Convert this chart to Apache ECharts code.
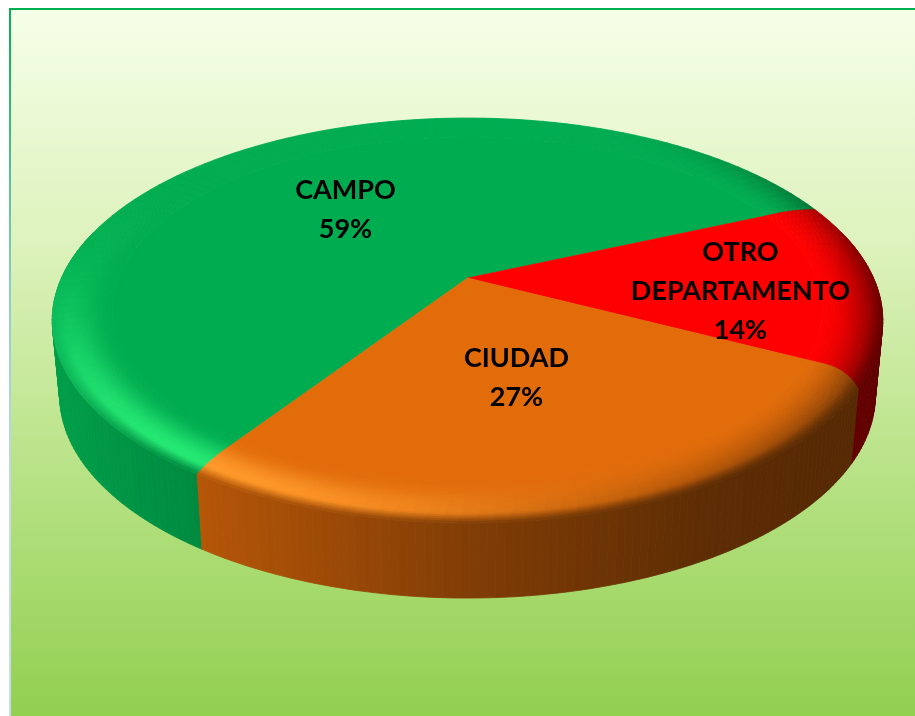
<!DOCTYPE html>
<html>
<head>
<meta charset="utf-8">
<style>html,body{margin:0;padding:0;background:#fff}#c{width:915px;height:716px}</style>
<script src="https://cdn.jsdelivr.net/npm/echarts@6/dist/echarts.min.js"></script>
</head>
<body>
<div id="c"></div>
<script>
// --- data ---
var categories = ['CAMPO', 'OTRO\nDEPARTAMENTO', 'CIUDAD'];
var values = [59, 14, 27];

// --- styles ---
var baseColors = [[0, 172, 80], [255, 0, 0], [226, 107, 10]];
var highlightColors = [[36, 232, 116], [255, 70, 50], [255, 152, 42]];
var labelOffsets = [[-122, -68], [273, 13], [49, 100]];
var view = {cx: 467.5, cy: 278, R: 406, S: 193.6, k: 0.21, depth: 75, bottomScale: 0.982, startDeg: 124};
var bevelStart = 0.86, rings = 22;
// how far, in degrees, each boundary bends along the rounded rim of the pie
var boundaryBend = [-0.7, 1.2, 4];

var total = values.reduce(function (a, b) { return a + b; }, 0);
var rad = Math.PI / 180;

function boundaryAngle(i, r) {
  var before = 0;
  for (var j = 0; j < i; j++) before += values[j];
  var deg = view.startDeg + before / total * 360;
  var t = Math.max(0, (r - 0.9) / 0.1);
  return deg + boundaryBend[i % values.length] * t * t;
}
function sliceEdges(i, r) {
  var end = boundaryAngle(i + 1, r);
  if (i === values.length - 1) end = boundaryAngle(0, r) + 360;
  return [boundaryAngle(i, r), end];
}
function project(r, deg, bottom) {
  var u = r * Math.cos(deg * rad), v = r * Math.sin(deg * rad);
  var w = 1 / (1 - view.k * v);
  var s = bottom ? view.bottomScale : 1;
  return [view.cx + view.R * s * u * w, view.cy + view.S * v * w + (bottom ? view.depth : 0)];
}
function rgb(c) { return 'rgb(' + Math.round(c[0]) + ',' + Math.round(c[1]) + ',' + Math.round(c[2]) + ')'; }
function mix(a, b, t) { return [a[0] + (b[0] - a[0]) * t, a[1] + (b[1] - a[1]) * t, a[2] + (b[2] - a[2]) * t]; }
function scale(c, f) { return [c[0] * f, c[1] * f, c[2] * f]; }
function wallFactor(x) {
  var pts = [[50, 0.92], [200, 0.8], [470, 0.57], [700, 0.42], [800, 0.39], [900, 0.38]];
  for (var i = 1; i < pts.length; i++) {
    if (x <= pts[i][0]) {
      var t = (x - pts[i - 1][0]) / (pts[i][0] - pts[i - 1][0]);
      return pts[i - 1][1] + (pts[i][1] - pts[i - 1][1]) * Math.max(0, t);
    }
  }
  return 0.38;
}
function norm(deg) { return ((deg % 360) + 360) % 360; }
function bevelColor(i, r, deg) {
  var p = (r - bevelStart) / (1 - bevelStart);
  var base = baseColors[i], d = norm(deg);
  var ch = Math.max(0, Math.cos((d - 125) * rad));
  var h = Math.pow(ch, d < 125 ? 4 : 2.6);
  var s = Math.pow(Math.max(0, Math.cos((d - 20) * rad)), 2);
  var hp = Math.sin(Math.min(1, p / 0.75) * Math.PI / 2);
  var c = mix(base, highlightColors[i], h * hp * hp);
  c = mix(c, scale(base, 0.4), s * Math.pow(p, 1.8));
  var front = Math.max(0, Math.sin(deg * rad));
  var x = project(1, deg)[0];
  if (p > 0.78) c = mix(c, scale(base, wallFactor(x)), Math.min(1, front * 1.25) * (p - 0.78) / 0.22);
  return c;
}
function quad(a, b, c, d, col) {
  return {type: 'polygon', silent: true, shape: {points: [a, b, c, d]},
    style: {fill: rgb(col), stroke: rgb(col), lineWidth: 0.8}};
}
function renderWall(params) {
  var i = params.dataIndex, ang = sliceEdges(i, 1), kids = [];
  for (var a = ang[0]; a < ang[1] - 1e-6; a += 1) {
    var b = Math.min(a + 1, ang[1]);
    if (Math.sin((a + b) / 2 * rad) < -0.25) continue;
    var t0 = project(1, a), t1 = project(1, b), b0 = project(1, a, true), b1 = project(1, b, true);
    kids.push(quad(t0, t1, b1, b0, scale(baseColors[i], wallFactor((t0[0] + t1[0]) / 2))));
  }
  return {type: 'group', children: kids};
}
function renderTop(params) {
  var i = params.dataIndex, kids = [], a, n, m;
  var inner = sliceEdges(i, bevelStart);
  var pts = [[view.cx, view.cy]];
  for (a = inner[0]; a < inner[1]; a += 2) pts.push(project(bevelStart, a));
  pts.push(project(bevelStart, inner[1]));
  kids.push({type: 'polygon', silent: true, shape: {points: pts},
    style: {fill: rgb(baseColors[i]), stroke: rgb(baseColors[i]), lineWidth: 0.6}});
  var count = Math.max(4, Math.round((inner[1] - inner[0]) / 2));
  for (n = 0; n < rings; n++) {
    var r0 = bevelStart + (1 - bevelStart) * n / rings, r1 = bevelStart + (1 - bevelStart) * (n + 1) / rings;
    var e0 = sliceEdges(i, r0), e1 = sliceEdges(i, r1);
    for (m = 0; m < count; m++) {
      var f0 = m / count, f1 = (m + 1) / count;
      var a00 = e0[0] + (e0[1] - e0[0]) * f0, a01 = e0[0] + (e0[1] - e0[0]) * f1;
      var a10 = e1[0] + (e1[1] - e1[0]) * f0, a11 = e1[0] + (e1[1] - e1[0]) * f1;
      kids.push(quad(project(r0, a00), project(r0, a01), project(r1, a11), project(r1, a10),
        bevelColor(i, (r0 + r1) / 2, (a00 + a11) / 2)));
    }
  }
  return {type: 'group', children: kids};
}
function renderLabel(params, api) {
  var i = params.dataIndex, off = labelOffsets[i];
  return {type: 'text', silent: true, x: view.cx + off[0], y: view.cy + off[1], z2: 50,
    style: {text: categories[i] + '\n' + api.value(0) + '%', fill: '#000', align: 'center', verticalAlign: 'middle',
      font: 'bold 27px Lato', lineHeight: 39}};
}

var chart = echarts.init(document.getElementById('c'), null, {renderer: 'canvas'});
var seriesData = values.map(function (v, i) { return {name: categories[i], value: [v]}; });
chart.setOption({
  animation: false,
  backgroundColor: '#fff',
  graphic: [{
    type: 'rect', z: -10, silent: true, shape: {x: 10, y: 9, width: 905, height: 707},
    style: {
      fill: {type: 'linear', x: 0, y: 0, x2: 0, y2: 1, colorStops: [
        {offset: 0, color: '#F6FFE8'}, {offset: 0.33, color: '#DDF2BC'},
        {offset: 0.66, color: '#B7E285'}, {offset: 1, color: '#92D050'}]}
    }
  }, {
    type: 'rect', z: -9, silent: true, shape: {x: 9, y: 8, width: 906, height: 2}, style: {fill: '#00B050'}
  }, {
    type: 'rect', z: -9, silent: true, shape: {x: 9, y: 8, width: 2, height: 708},
    style: {fill: {type: 'linear', x: 0, y: 0, x2: 0, y2: 1, colorStops: [
      {offset: 0, color: '#00B050'}, {offset: 0.4, color: '#8CCFC0'}, {offset: 0.7, color: '#C6DAF0'}, {offset: 1, color: '#C6DAF0'}]}}
  }],
  series: [
    {type: 'custom', coordinateSystem: 'none', z: 2, renderItem: renderWall, data: seriesData, silent: true},
    {type: 'custom', coordinateSystem: 'none', z: 3, renderItem: renderTop, data: seriesData, silent: true},
    {type: 'custom', coordinateSystem: 'none', z: 4, renderItem: renderLabel, data: seriesData, silent: true}
  ]
});
</script>
</body>
</html>
